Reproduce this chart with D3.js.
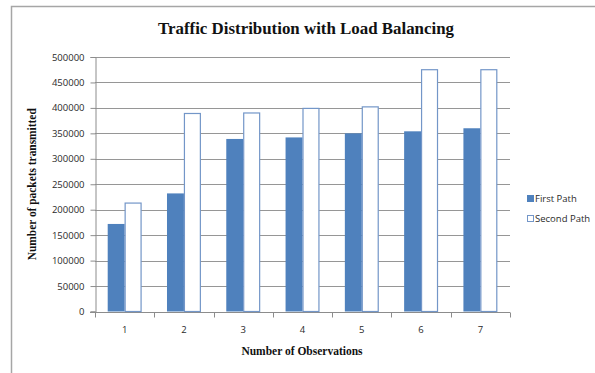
<!DOCTYPE html>
<html>
<head>
<meta charset="utf-8">
<script src="https://cdn.jsdelivr.net/npm/d3@7"></script>
<style>
  html, body { margin: 0; padding: 0; background: #fff; }
  svg { display: block; }
</style>
</head>
<body>
<script>
// Observation numbers and packet counts for each path
const observations = ["1", "2", "3", "4", "5", "6", "7"];
const firstPath = [172000, 232000, 339000, 342000, 350000, 354000, 360000];
const secondPath = [214000, 390000, 391000, 400000, 403000, 476000, 476000];
const seriesNames = ["First Path", "Second Path"];
const yTicks = [0, 50000, 100000, 150000, 200000, 250000, 300000, 350000, 400000, 450000, 500000];

const W = 595, H = 373;
const plot = { left: 95, right: 510, top: 57, bottom: 311.5 };
const blue = "#4f81bd";
const serif = "'Liberation Serif', 'DejaVu Serif', serif";
const sans = "'Open Sans', 'Liberation Sans', sans-serif";

const svg = d3.select("body").append("svg")
  .attr("width", W).attr("height", H);

// chart frame (top and left edges)
svg.append("path")
  .attr("d", `M11.5,${H} V6.5 H${W}`)
  .attr("fill", "none").attr("stroke", "#a6a6a6").attr("stroke-width", 1.5);

const x = d3.scaleBand().domain(observations)
  .range([plot.left, plot.right]).paddingInner(0).paddingOuter(0);
const y = d3.scaleLinear().domain([0, 500000]).range([plot.bottom, plot.top]);

// horizontal gridlines
svg.append("g").selectAll("line")
  .data(yTicks.filter(d => d > 0))
  .join("line")
  .attr("x1", plot.left).attr("x2", plot.right)
  .attr("y1", d => Math.round(y(d)) + 0.5).attr("y2", d => Math.round(y(d)) + 0.5)
  .attr("stroke", "#969696").attr("stroke-width", 1);

// y axis
const yAxis = svg.append("g")
  .attr("transform", `translate(${plot.left + 0.5},0)`)
  .call(d3.axisLeft(y).tickValues(yTicks).tickFormat(d3.format("d")).tickSize(5).tickPadding(6));
yAxis.select(".domain").attr("stroke", "#8c8c8c");
yAxis.selectAll(".tick line").attr("stroke", "#8c8c8c");
yAxis.selectAll("text").attr("font-family", sans).attr("font-size", 9.5).attr("fill", "#2a2a2a");

// x axis with ticks at category boundaries
const xAxis = svg.append("g")
  .attr("transform", `translate(0,${Math.round(plot.bottom) + 0.5})`);
xAxis.append("line")
  .attr("x1", plot.left - 5).attr("x2", plot.right)
  .attr("stroke", "#8c8c8c");
xAxis.selectAll(".tk")
  .data(observations.concat(["end"]))
  .join("line")
  .attr("x1", (d, i) => Math.round(plot.left + i * x.bandwidth()) + 0.5)
  .attr("x2", (d, i) => Math.round(plot.left + i * x.bandwidth()) + 0.5)
  .attr("y1", 0).attr("y2", 5)
  .attr("stroke", "#8c8c8c");
xAxis.selectAll("text")
  .data(observations)
  .join("text")
  .attr("x", d => x(d) + x.bandwidth() / 2)
  .attr("y", 20)
  .attr("text-anchor", "middle")
  .attr("font-family", sans).attr("font-size", 9.5).attr("fill", "#2a2a2a")
  .text(d => d);

// bars: two per observation
const inner = d3.scaleBand().domain([0, 1])
  .range([0, x.bandwidth()]).paddingOuter(0.75).paddingInner(0);

const rows = observations.map((o, i) => ({ o, vals: [firstPath[i], secondPath[i]] }));
const groups = svg.append("g").selectAll("g")
  .data(rows).join("g")
  .attr("transform", d => `translate(${x(d.o)},0)`);

groups.append("rect")
  .attr("x", inner(0)).attr("width", inner.bandwidth())
  .attr("y", d => y(d.vals[0])).attr("height", d => y(0) - y(d.vals[0]))
  .attr("fill", blue);

groups.append("rect")
  .attr("x", inner(1) + 0.5).attr("width", inner.bandwidth() - 1)
  .attr("y", d => y(d.vals[1]) + 0.5).attr("height", d => y(0) - y(d.vals[1]) - 0.5)
  .attr("fill", "#fff").attr("stroke", "#7396c8").attr("stroke-width", 1.2);

// title
svg.append("text")
  .attr("x", 306).attr("y", 34)
  .attr("text-anchor", "middle")
  .attr("font-family", serif).attr("font-weight", "bold").attr("font-size", 17)
  .attr("textLength", 296).attr("lengthAdjust", "spacingAndGlyphs")
  .attr("fill", "#111")
  .text("Traffic Distribution with Load Balancing");

// axis titles
svg.append("text")
  .attr("transform", `translate(36,${(plot.top + plot.bottom) / 2}) rotate(-90)`)
  .attr("text-anchor", "middle")
  .attr("font-family", serif).attr("font-weight", "bold").attr("font-size", 12)
  .attr("textLength", 152).attr("lengthAdjust", "spacingAndGlyphs")
  .attr("fill", "#111")
  .text("Number of packets transmitted");

svg.append("text")
  .attr("x", 302).attr("y", 355)
  .attr("text-anchor", "middle")
  .attr("font-family", serif).attr("font-weight", "bold").attr("font-size", 11.5)
  .attr("fill", "#111")
  .text("Number of Observations");

// legend
const legend = svg.append("g").attr("transform", "translate(527,195)");
seriesNames.forEach((name, i) => {
  const g = legend.append("g").attr("transform", `translate(0,${i * 20})`);
  g.append("rect")
    .attr("x", 0.5).attr("y", 0.5).attr("width", 6).attr("height", 6)
    .attr("fill", i === 0 ? blue : "#fff")
    .attr("stroke", i === 0 ? blue : "#7396c8");
  g.append("text")
    .attr("x", 8).attr("y", 7)
    .attr("font-family", sans).attr("font-size", 9.5).attr("fill", "#2a2a2a")
    .text(name);
});
</script>
</body>
</html>
